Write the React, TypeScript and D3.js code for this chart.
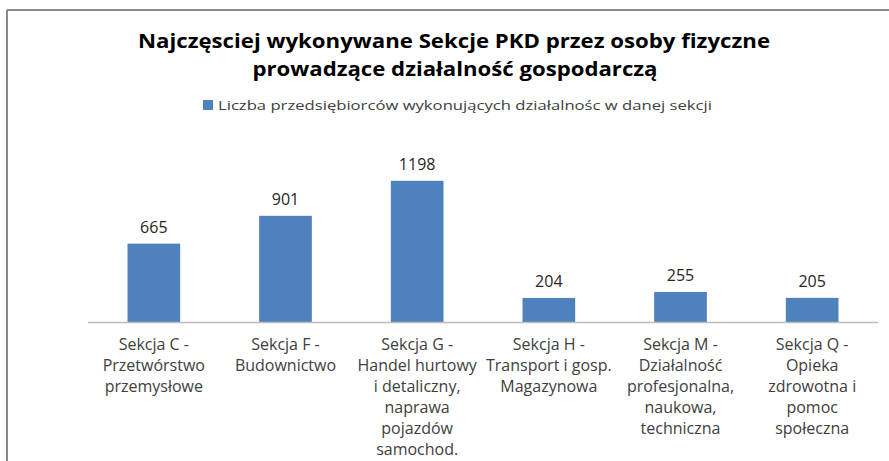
import React from "react";
import * as d3 from "d3";

// chart values
const categories: string[][] = [
  ["Sekcja C -", "Przetwórstwo", "przemysłowe"],
  ["Sekcja F -", "Budownictwo"],
  ["Sekcja G -", "Handel hurtowy", "i detaliczny,", "naprawa", "pojazdów", "samochod."],
  ["Sekcja H -", "Transport i gosp.", "Magazynowa"],
  ["Sekcja M -", "Działalność", "profesjonalna,", "naukowa,", "techniczna"],
  ["Sekcja Q -", "Opieka", "zdrowotna i", "pomoc", "społeczna"],
];
const values: number[] = [665, 901, 1198, 204, 255, 205];
const titleLines: string[] = [
  "Najczęsciej wykonywane Sekcje PKD przez osoby fizyczne",
  "prowadzące działalność gospodarczą",
];
const seriesName = "Liczba przedsiębiorców wykonujących działalnośc w danej sekcji";

const W = 889;
const H = 461;
const FONT = "'Open Sans', 'Liberation Sans', sans-serif";

const App: React.FC = () => {
  const keys = categories.map((c) => c[0]);

  const x = d3.scaleBand<string>()
    .domain(keys)
    .range([88, 878])
    .paddingInner(0.6)
    .paddingOuter(0.3);

  const y = d3.scaleLinear().domain([0, 1400]).range([322, 157]);

  return (
    <svg
      width={W}
      height={H}
      viewBox={`0 0 ${W} ${H}`}
      style={{ position: "absolute", left: 0, top: 0, background: "#fff" }}
    >
      {/* frame */}
      <line x1={7} y1={10} x2={W} y2={10} stroke="#8a8a8a" strokeWidth={2} />
      <line x1={7} y1={10} x2={7} y2={H} stroke="#8a8a8a" strokeWidth={2} />

      {/* title */}
      <g fontFamily={FONT} fontWeight="bold" fontSize={20} fill="#000" textAnchor="middle">
        <text x={454} y={48} textLength={632} lengthAdjust="spacingAndGlyphs">{titleLines[0]}</text>
        <text x={455} y={76} textLength={405} lengthAdjust="spacingAndGlyphs">{titleLines[1]}</text>
      </g>

      {/* legend */}
      <rect x={203} y={100} width={10} height={10} fill="#4f81bd" />
      <text
        x={218}
        y={110}
        fontFamily={FONT}
        fontSize={13.5}
        fill="#404040"
        textLength={494}
        lengthAdjust="spacingAndGlyphs"
      >
        {seriesName}
      </text>

      {/* bars */}
      {values.map((v, i) => (
        <g key={keys[i]}>
          <rect
            x={x(keys[i])}
            y={y(v)}
            width={x.bandwidth()}
            height={y(0) - y(v)}
            fill="#4f81bd"
          />
          <text
            x={(x(keys[i]) ?? 0) + x.bandwidth() / 2}
            y={y(v) - 11}
            textAnchor="middle"
            fontFamily={FONT}
            fontSize={16}
            fill="#262626"
          >
            {v}
          </text>
        </g>
      ))}

      {/* axis */}
      <line x1={88} y1={y(0) + 0.5} x2={878} y2={y(0) + 0.5} stroke="#bdbdbd" strokeWidth={1.5} />

      {/* category labels */}
      {categories.map((lines, i) => (
        <text
          key={keys[i]}
          textAnchor="middle"
          fontFamily={FONT}
          fontSize={16}
          fill="#404040"
        >
          {lines.map((ln, j) => (
            <tspan key={j} x={(x(keys[i]) ?? 0) + x.bandwidth() / 2} y={350 + j * 21}>
              {ln}
            </tspan>
          ))}
        </text>
      ))}
    </svg>
  );
};

export default App;
